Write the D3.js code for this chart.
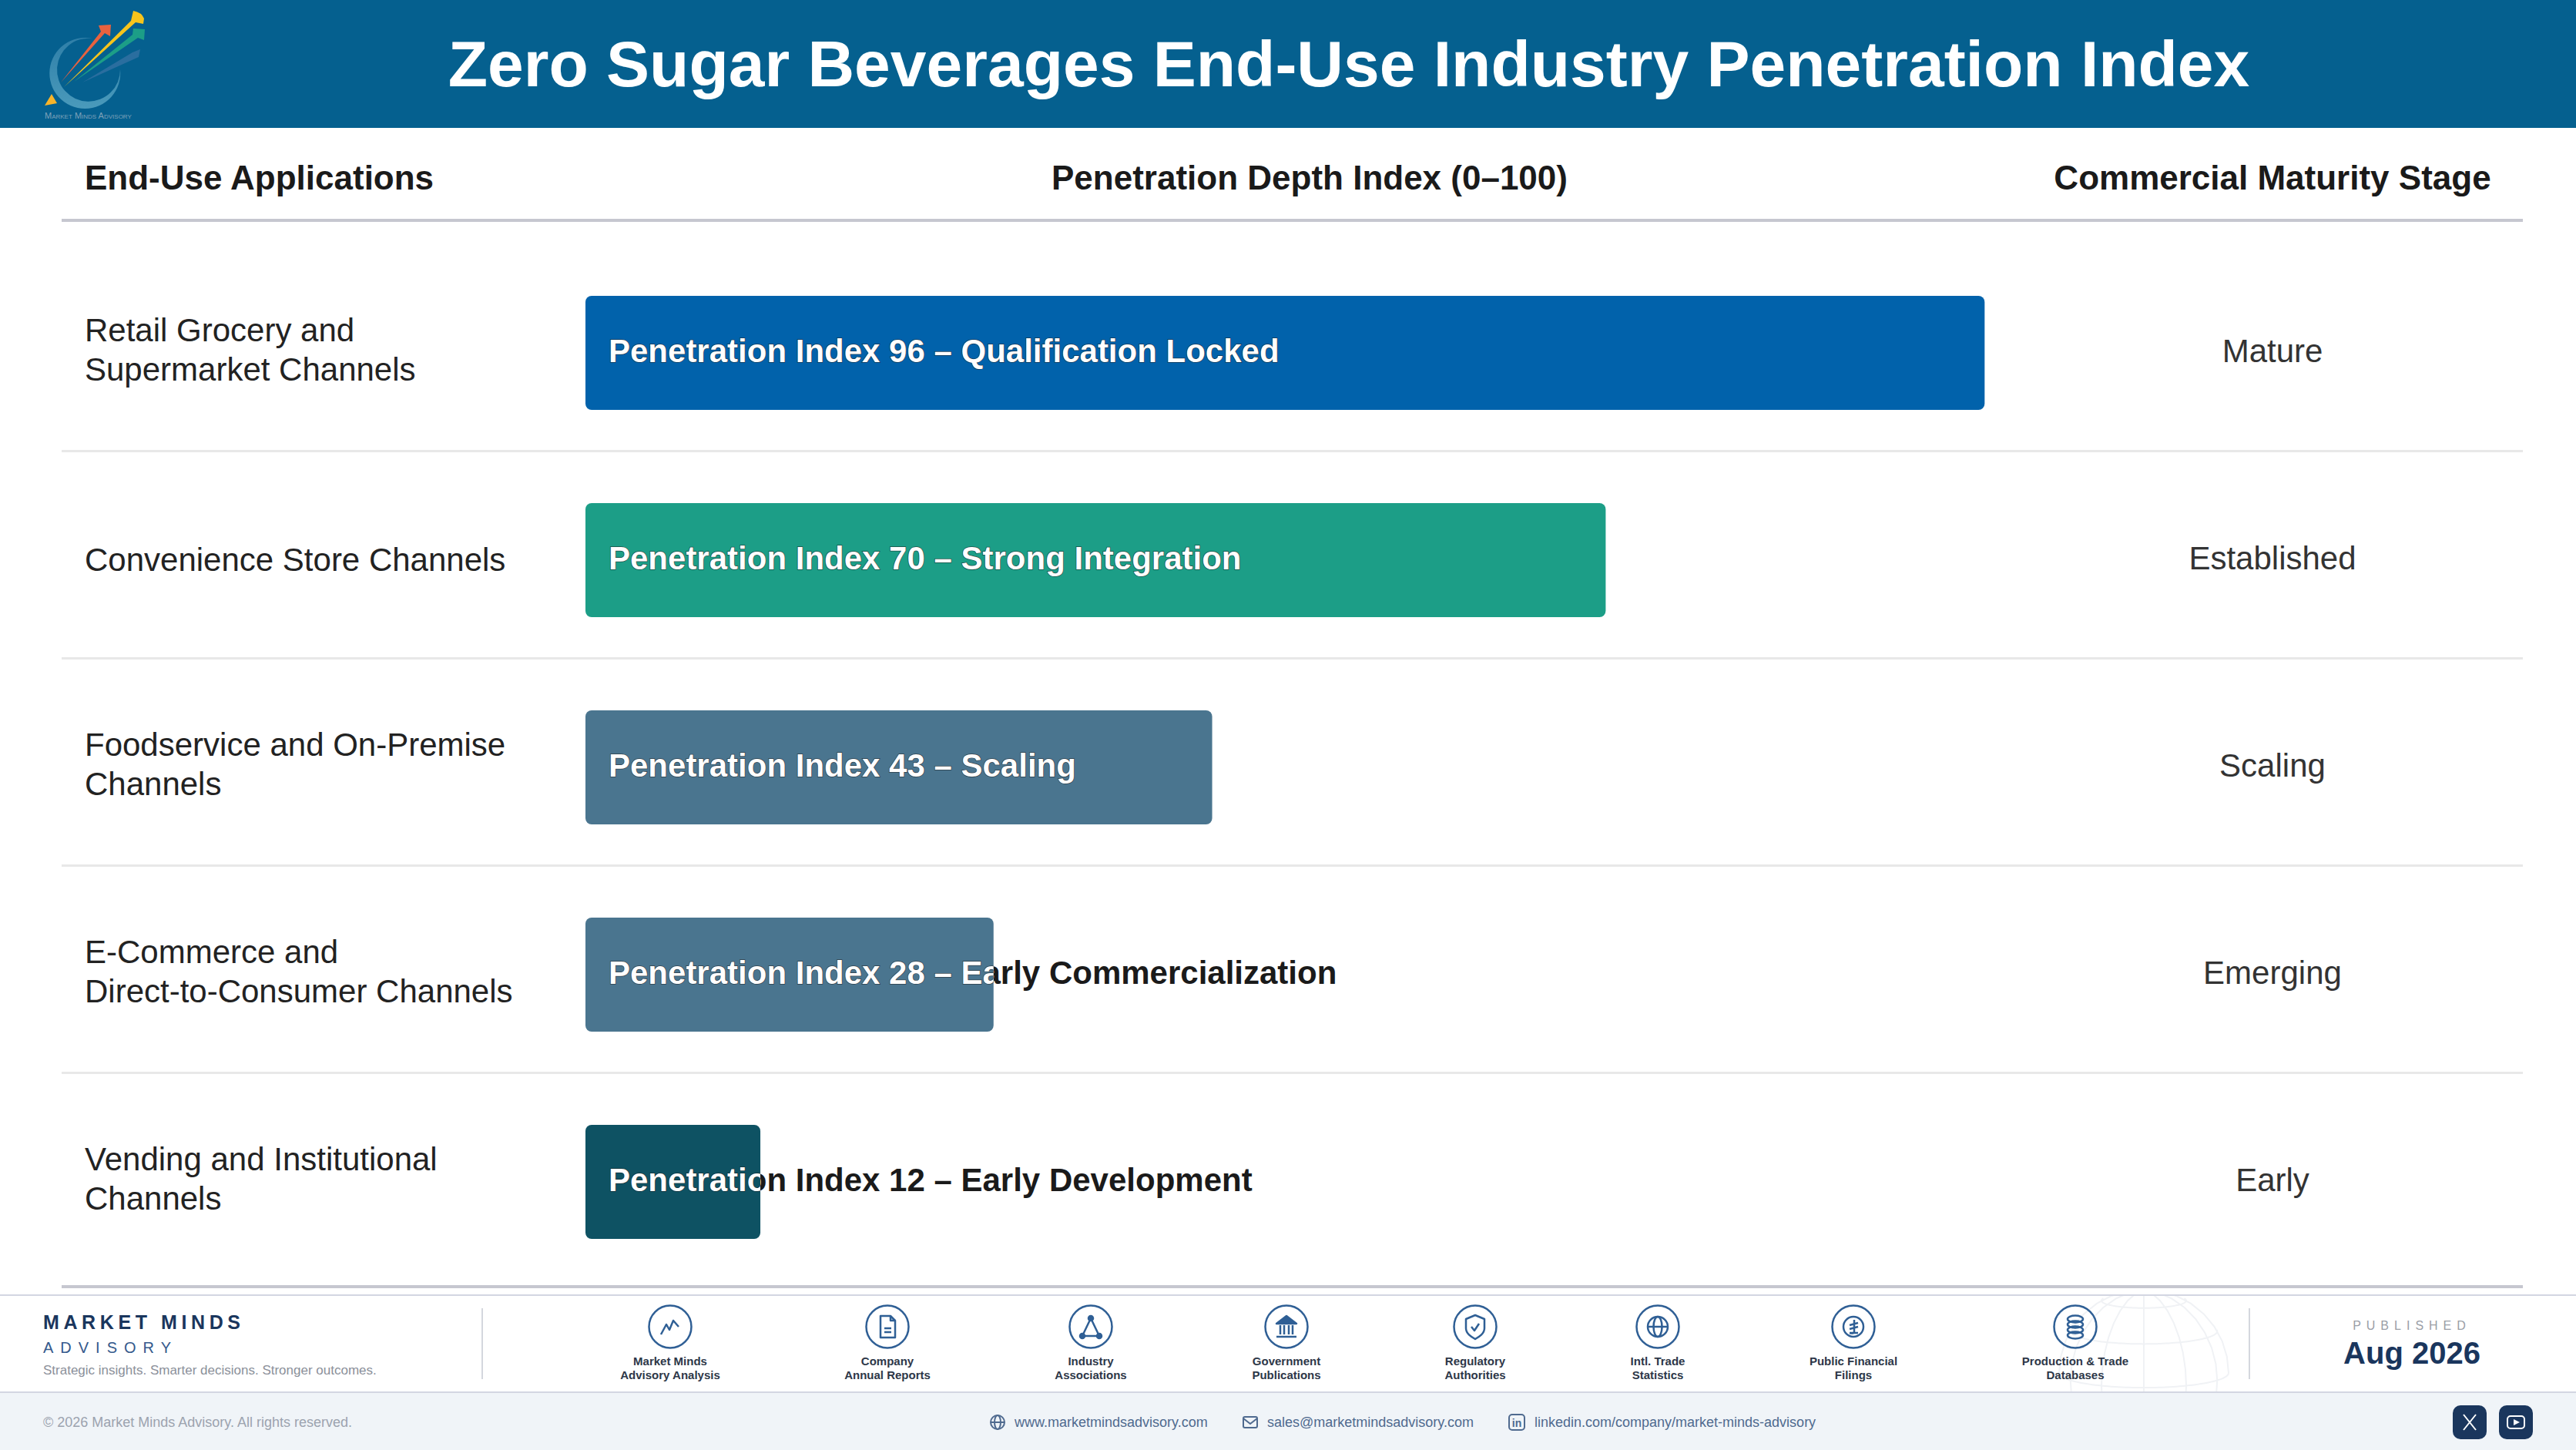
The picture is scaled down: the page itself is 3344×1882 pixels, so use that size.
<!DOCTYPE html>
<html>
<head>
<meta charset="utf-8">
<title>Zero Sugar Beverages End-Use Industry Penetration Index</title>
<script src="https://cdn.jsdelivr.net/npm/d3@7"></script>
<style>
  html, body { margin: 0; padding: 0; background: #fff; }
  svg { display: block; font-family: "Liberation Sans", Arial, sans-serif; }
</style>
</head>
<body>
<div id="chart-area"></div>
<script>
// Chart data
const categories = [
  ["Retail Grocery and", "Supermarket Channels"],
  ["Convenience Store Channels"],
  ["Foodservice and On-Premise", "Channels"],
  ["E-Commerce and", "Direct-to-Consumer Channels"],
  ["Vending and Institutional", "Channels"]
]
const indexValues = [96, 70, 43, 28, 12]
const barNotes = ["Qualification Locked", "Strong Integration", "Scaling", "Early Commercialization", "Early Development"]
const stages = ["Mature", "Established", "Scaling", "Emerging", "Early"]

// Footer content
const sources = [
  ["Market Minds", "Advisory Analysis"],
  ["Company", "Annual Reports"],
  ["Industry", "Associations"],
  ["Government", "Publications"],
  ["Regulatory", "Authorities"],
  ["Intl. Trade", "Statistics"],
  ["Public Financial", "Filings"],
  ["Production & Trade", "Databases"]
]

const WIDTH = 3344
const HEIGHT = 1882
const barColors = ["#0162ab", "#1c9e87", "#4a758f", "#4a758f", "#0e5263"]
const NAVY = "#1a365d"
const ICON_BLUE = "#2f5f95"

const svg = d3.select("#chart-area").append("svg")
  .attr("width", WIDTH)
  .attr("height", HEIGHT)
  .attr("viewBox", `0 0 ${WIDTH} ${HEIGHT}`)

svg.append("rect").attr("width", WIDTH).attr("height", HEIGHT).attr("fill", "#fff")

// Header band
svg.append("rect").attr("width", WIDTH).attr("height", 166).attr("fill", "#05608f")
svg.append("text")
  .attr("x", 1751).attr("y", 112)
  .attr("text-anchor", "middle")
  .attr("font-size", 84).attr("font-weight", 700).attr("fill", "#fff")
  .text("Zero Sugar Beverages End-Use Industry Penetration Index")

// Logo
const logo = svg.append("g")
const defs = svg.append("defs")
const ringGrad = defs.append("linearGradient")
  .attr("id", "ring").attr("x1", 0).attr("y1", 0).attr("x2", 0).attr("y2", 1)
ringGrad.append("stop").attr("offset", "0%").attr("stop-color", "#2f7fa8")
ringGrad.append("stop").attr("offset", "100%").attr("stop-color", "#4a9abb")
logo.append("path")
  .attr("d", "M120,50 A46,46 0 1 0 156,90 A41,41 0 1 1 120,50 Z")
  .attr("fill", "url(#ring)")
const arrows = [
  { c: "#2a6e9f", d: "M107,107 L172,68 L182,64 L180,74 Z" },
  { c: "#1c9e87", d: "M96,106 L172,45 L173,37 L188,38 L187,52 L179,49 Z" },
  { c: "#f6c41c", d: "M83,113 L170,27 L173,14 Q184,16 187,24 L186,31 L176,29 Z" },
  { c: "#e8623f", d: "M79,107 L131,41 L128,33 L144,32 L143,47 L136,43 Z" }
]
logo.selectAll("path.arrow").data(arrows).join("path")
  .attr("class", "arrow").attr("d", d => d.d).attr("fill", d => d.c)
logo.append("path").attr("d", "M58,137 L67,122 L74,134 Z").attr("fill", "#f8b42a")
logo.append("text")
  .attr("x", 58).attr("y", 154)
  .attr("font-size", 11).attr("font-variant", "small-caps").attr("fill", "#7fa2ba")
  .text("Market Minds Advisory")

// Column headers
const headerY = 246
const headers = [
  { t: "End-Use Applications", x: 110, a: "start" },
  { t: "Penetration Depth Index (0–100)", x: 1700, a: "middle" },
  { t: "Commercial Maturity Stage", x: 2950, a: "middle" }
]
svg.selectAll("text.col").data(headers).join("text")
  .attr("class", "col")
  .attr("x", d => d.x).attr("y", headerY)
  .attr("text-anchor", d => d.a)
  .attr("font-size", 44).attr("font-weight", 700).attr("fill", "#1a1a1a")
  .text(d => d.t)
svg.append("rect").attr("x", 80).attr("y", 284).attr("width", 3195).attr("height", 4).attr("fill", "#c6c7d0")

// Scales
const x = d3.scaleLinear().domain([0, 100]).range([760, 2652])
const y = d3.scaleBand().domain(d3.range(categories.length)).range([323.5, 1668.5])
const BAR_H = 148
const BAR_TOP = -BAR_H / 2

const rows = svg.selectAll("g.row").data(indexValues).join("g")
  .attr("class", "row")
  .attr("transform", (d, i) => `translate(0,${y(i) + y.bandwidth() / 2})`)

// Row separators
rows.filter((d, i) => i < indexValues.length - 1).append("rect")
  .attr("x", 80).attr("y", 126).attr("width", 3195).attr("height", 3).attr("fill", "#e8e8e8")

// Category labels
rows.each(function(d, i) {
  const lines = categories[i]
  d3.select(this).selectAll("text.cat").data(lines).join("text")
    .attr("class", "cat")
    .attr("x", 110)
    .attr("y", (l, j) => lines.length === 1 ? 14 : (j - 0.5) * 51 + 10)
    .attr("font-size", 42).attr("fill", "#222")
    .text(l => l)
})

// Bars
rows.append("rect")
  .attr("x", x(0))
  .attr("y", BAR_TOP)
  .attr("width", d => x(d) - x(0))
  .attr("height", BAR_H)
  .attr("rx", 8)
  .attr("fill", (d, i) => barColors[i])

// Bar labels: dark outside the bar, white with a thin dark edge clipped to the bar
indexValues.forEach((d, i) => {
  defs.append("clipPath").attr("id", `clip-${i}`)
    .append("rect")
    .attr("x", x(0)).attr("y", BAR_TOP)
    .attr("width", x(d) - x(0)).attr("height", BAR_H)
})
const barLabel = (d, i) => `Penetration Index ${d} – ${barNotes[i]}`
const LABEL_Y = 12
rows.append("text")
  .attr("x", 790).attr("y", LABEL_Y)
  .attr("font-size", 42).attr("font-weight", 700).attr("fill", "#1a1a1a")
  .text(barLabel)
const inside = rows.append("g").attr("clip-path", (d, i) => `url(#clip-${i})`)
inside.append("text")
  .attr("x", 790).attr("y", LABEL_Y)
  .attr("font-size", 42).attr("font-weight", 700).attr("fill", "none")
  .attr("stroke", "#1a1a1a").attr("stroke-width", 1.4).attr("stroke-opacity", 0.6)
  .text(barLabel)
inside.append("text")
  .attr("x", 790).attr("y", LABEL_Y)
  .attr("font-size", 42).attr("font-weight", 700).attr("fill", "#fff")
  .text(barLabel)

// Maturity stage
rows.append("text")
  .attr("x", 2950).attr("y", LABEL_Y)
  .attr("text-anchor", "middle")
  .attr("font-size", 42).attr("fill", "#333")
  .text((d, i) => stages[i])

svg.append("rect").attr("x", 80).attr("y", 1668).attr("width", 3195).attr("height", 4).attr("fill", "#c6c7d0")

// Footer
svg.append("rect").attr("x", 0).attr("y", 1807).attr("width", WIDTH).attr("height", 75).attr("fill", "#f0f4f8")

// Faint globe behind the sources
const footerClip = defs.append("clipPath").attr("id", "footer-clip")
footerClip.append("rect").attr("x", 0).attr("y", 1681).attr("width", WIDTH).attr("height", 125)
const globe = d3.geoOrthographic().translate([2783, 1782]).scale(110).rotate([0, -10])
svg.append("path")
  .attr("clip-path", "url(#footer-clip)")
  .attr("d", d3.geoPath(globe)(d3.geoGraticule().step([30, 30])()))
  .attr("fill", "none").attr("stroke", "#f0f2f5").attr("stroke-width", 2)

svg.append("rect").attr("x", 0).attr("y", 1680).attr("width", WIDTH).attr("height", 2).attr("fill", "#d3d6e2")
svg.append("rect").attr("x", 0).attr("y", 1806).attr("width", WIDTH).attr("height", 2).attr("fill", "#d3d6e2")

svg.append("text").attr("x", 56).attr("y", 1725)
  .attr("font-size", 25).attr("font-weight", 700).attr("letter-spacing", 5.6).attr("fill", NAVY)
  .text("MARKET MINDS")
svg.append("text").attr("x", 56).attr("y", 1756)
  .attr("font-size", 20).attr("letter-spacing", 9).attr("fill", "#34598c")
  .text("ADVISORY")
svg.append("text").attr("x", 56).attr("y", 1784)
  .attr("font-size", 17).attr("fill", "#8b909a")
  .text("Strategic insights. Smarter decisions. Stronger outcomes.")

;[625, 2919].forEach(dx => {
  svg.append("rect").attr("x", dx).attr("y", 1698).attr("width", 2).attr("height", 92).attr("fill", "#d4d7de")
})

// Source icons, drawn around the circle centre
const iconDraw = [
  g => g.append("path").attr("d", "M-12,10 L-5,-3 L-1,4 L4,-8 L11,0").attr("fill", "none"),
  g => {
    g.append("path").attr("d", "M-9,-14 H4 L10,-8 V14 H-9 Z M4,-14 V-8 H10").attr("fill", "none")
    g.append("path").attr("d", "M-4,2 H5 M-4,7 H5").attr("fill", "none")
  },
  g => {
    g.append("path").attr("d", "M0,-11 L-11,12 H11 Z").attr("fill", "none")
    g.selectAll("circle.node").data([[0, -11], [-11, 12], [11, 12]]).join("circle")
      .attr("class", "node").attr("cx", d => d[0]).attr("cy", d => d[1]).attr("r", 3).attr("fill", ICON_BLUE)
  },
  g => {
    g.append("path").attr("d", "M0,-14 L13,-4 H-13 Z").attr("fill", ICON_BLUE)
    g.append("path").attr("d", "M-8,-2 V10 M-3,-2 V10 M3,-2 V10 M8,-2 V10 M-13,13 H13").attr("fill", "none")
  },
  g => {
    g.append("path").attr("d", "M0,-15 L12,-10 V2 C12,9 5,13 0,16 C-5,13 -12,9 -12,2 V-10 Z").attr("fill", "none")
    g.append("path").attr("d", "M-5,0 L-1,5 L5,-4").attr("fill", "none")
  },
  g => {
    g.append("circle").attr("r", 13).attr("fill", "none")
    g.append("ellipse").attr("rx", 5.5).attr("ry", 13).attr("fill", "none")
    g.append("path").attr("d", "M-13,0 H13").attr("fill", "none")
  },
  g => {
    g.append("circle").attr("r", 13).attr("fill", "none")
    g.append("path").attr("d", "M1,-9 V6 C1,9 -2,9 -5,8 M-5,-2 L6,-5 M-5,3 L6,0 M-5,8 H6").attr("fill", "none")
  },
  g => {
    g.append("ellipse").attr("cy", -10).attr("rx", 10).attr("ry", 4.5).attr("fill", "none")
    g.append("ellipse").attr("cy", -3).attr("rx", 10).attr("ry", 4.5).attr("fill", "none")
    g.append("ellipse").attr("cy", 4).attr("rx", 10).attr("ry", 4.5).attr("fill", "none")
    g.append("ellipse").attr("cy", 11).attr("rx", 10).attr("ry", 4.5).attr("fill", "none")
  }
]
const sourceX = [870, 1152, 1416, 1670, 1915, 2152, 2406, 2694]
const src = svg.selectAll("g.source").data(sources).join("g")
  .attr("class", "source")
  .attr("transform", (d, i) => `translate(${sourceX[i]},1722)`)
src.append("circle").attr("r", 27.5).attr("fill", "none")
  .attr("stroke", ICON_BLUE).attr("stroke-width", 2.5)
src.each(function(d, i) {
  const g = d3.select(this).append("g").attr("stroke", ICON_BLUE).attr("stroke-width", 2.5)
    .attr("stroke-linejoin", "round")
  iconDraw[i](g)
  d3.select(this).selectAll("text").data(d).join("text")
    .attr("y", (l, j) => 50 + j * 18)
    .attr("text-anchor", "middle")
    .attr("font-size", 15).attr("font-weight", 700).attr("fill", "#2d3748")
    .text(l => l)
})

// Published
svg.append("text").attr("x", 3131).attr("y", 1726).attr("text-anchor", "middle")
  .attr("font-size", 16).attr("letter-spacing", 7).attr("fill", "#9a9ea6")
  .text("PUBLISHED")
svg.append("text").attr("x", 3131).attr("y", 1770).attr("text-anchor", "middle")
  .attr("font-size", 40).attr("font-weight", 700).attr("fill", NAVY)
  .text("Aug 2026")

// Bottom strip
svg.append("text").attr("x", 56).attr("y", 1852)
  .attr("font-size", 18).attr("fill", "#9ca3af")
  .text("© 2026 Market Minds Advisory. All rights reserved.")

const contacts = [
  { t: "www.marketmindsadvisory.com", ix: 1295, tx: 1317 },
  { t: "sales@marketmindsadvisory.com", ix: 1623, tx: 1645 },
  { t: "linkedin.com/company/market-minds-advisory", ix: 1969, tx: 1992 }
]
svg.selectAll("text.contact").data(contacts).join("text")
  .attr("class", "contact")
  .attr("x", d => d.tx).attr("y", 1852)
  .attr("font-size", 18).attr("fill", "#4f6a8f")
  .text(d => d.t)

const cIcons = svg.append("g").attr("fill", "none").attr("stroke", "#4f6a8f").attr("stroke-width", 2)
cIcons.append("circle").attr("cx", 1295).attr("cy", 1846).attr("r", 9)
cIcons.append("ellipse").attr("cx", 1295).attr("cy", 1846).attr("rx", 4).attr("ry", 9)
cIcons.append("path").attr("d", "M1286,1846 H1304")
cIcons.append("rect").attr("x", 1614).attr("y", 1839).attr("width", 18).attr("height", 14).attr("rx", 2)
cIcons.append("path").attr("d", "M1614,1841 L1623,1848 L1632,1841")
cIcons.append("rect").attr("x", 1959).attr("y", 1836).attr("width", 20).attr("height", 20).attr("rx", 4)
svg.append("text").attr("x", 1969).attr("y", 1852).attr("text-anchor", "middle")
  .attr("font-size", 14).attr("font-weight", 700).attr("fill", "#4f6a8f").text("in")

// Social buttons
svg.append("rect").attr("x", 3184).attr("y", 1824).attr("width", 44).attr("height", 44).attr("rx", 10).attr("fill", NAVY)
svg.append("rect").attr("x", 3244).attr("y", 1824).attr("width", 44).attr("height", 44).attr("rx", 10).attr("fill", NAVY)
svg.append("path").attr("d", "M3198,1836 L3214,1856 M3214,1836 L3198,1856")
  .attr("stroke", "#fff").attr("stroke-width", 2)
svg.append("rect").attr("x", 3255).attr("y", 1838).attr("width", 22).attr("height", 16).attr("rx", 4)
  .attr("fill", "none").attr("stroke", "#fff").attr("stroke-width", 2)
svg.append("path").attr("d", "M3263,1842 L3271,1846 L3263,1850 Z").attr("fill", "#fff")
</script>
</body>
</html>
